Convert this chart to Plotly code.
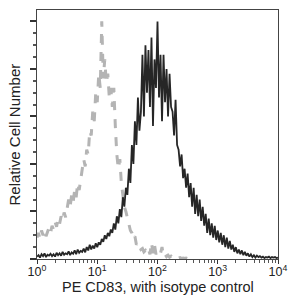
import plotly.graph_objects as go

# bin centres in log10 units (0 .. 4, step 0.025)
log_start = 0.0
log_step = 0.025

isotype = [
    0.45, 0.55, 0.42, 0.6, 0.5, 0.62, 0.48, 0.58, 0.66, 0.55,
    0.7, 0.62, 0.78, 0.68, 0.85, 0.74, 0.9, 0.8, 0.98, 0.88,
    1.05, 1.25, 1.1, 1.35, 1.2, 1.45, 1.3, 1.6, 1.45, 1.7,
    1.85, 2.1, 1.95, 2.3, 2.2, 2.7, 2.6, 3.1, 2.9, 3.5,
    3.3, 3.9, 3.6, 5.0, 3.8, 4.2, 3.7, 3.9, 3.4, 3.6,
    3.2, 3.6, 2.8, 2.2, 1.9, 2.1, 1.6, 1.3, 1.1, 1.0,
    0.85, 0.7, 0.6, 0.55, 0.42, 0.48, 0.3, 0.35, 0.28, 0.2,
    0.22, 0.15, 0.18, 0.12, 0.2, 0.1, 0.35, 0.12, 0.3, 0.1,
    0.15, 0.08, 0.12, 0.25, 0.06, 0.1, 0.05, 0.08, 0.04, 0.06,
    0.03, 0.05, 0.02, 0.04, 0.02, 0.03, 0.01, 0.02, 0.01, 0.02,
    0.01, 0.0,
]

cd83 = [
    0.05, 0.08, 0.03, 0.1, 0.06, 0.12, 0.04, 0.09, 0.07, 0.11,
    0.06, 0.1, 0.05, 0.13, 0.08, 0.12, 0.07, 0.15, 0.09, 0.12,
    0.1, 0.16, 0.08, 0.14, 0.11, 0.18, 0.1, 0.2, 0.13, 0.17,
    0.15, 0.22, 0.14, 0.25, 0.18, 0.3, 0.2, 0.28, 0.22, 0.33,
    0.25, 0.35, 0.3, 0.42, 0.36, 0.5, 0.42, 0.55, 0.48, 0.62,
    0.55, 0.75, 0.62, 0.9, 0.75, 1.05, 0.88, 1.3, 1.1, 1.5,
    1.35, 1.9, 1.6, 2.4, 2.0, 2.9, 2.4, 3.4, 2.7, 3.1,
    4.3, 3.0, 4.5, 3.5, 4.4, 3.2, 4.66, 2.8, 4.2, 3.6,
    5.0, 3.4, 4.3, 2.9, 4.3, 3.3, 4.0, 3.0, 3.9, 3.2,
    3.1, 2.6, 3.35, 2.4, 2.3, 1.95, 2.2, 1.7, 1.9, 1.5,
    1.8, 1.3, 1.6, 1.1, 1.5, 0.95, 1.35, 0.9, 1.25, 0.8,
    1.1, 0.7, 0.95, 0.55, 0.85, 0.5, 0.75, 0.45, 0.7, 0.4,
    0.6, 0.35, 0.55, 0.3, 0.5, 0.25, 0.45, 0.22, 0.38, 0.2,
    0.3, 0.15, 0.25, 0.12, 0.2, 0.1, 0.18, 0.08, 0.15, 0.07,
    0.12, 0.05, 0.1, 0.04, 0.08, 0.03, 0.07, 0.04, 0.06, 0.03,
    0.05, 0.02, 0.04, 0.03, 0.05, 0.02, 0.04, 0.03, 0.04, 0.02, 0.03,
]

tick_vals = [1, 10, 100, 1000, 10000]
tick_text = ["10<sup>0</sup>", "10<sup>1</sup>", "10<sup>2</sup>", "10<sup>3</sup>", "10<sup>4</sup>"]
x_title = "PE CD83, with isotype control"
y_title = "Relative Cell Number"

x_iso = [10 ** (log_start + i * log_step) for i in range(len(isotype))]
x_cd = [10 ** (log_start + i * log_step) for i in range(len(cd83))]

fig = go.Figure()
fig.add_trace(go.Scatter(x=x_iso, y=isotype, mode="lines",
                         line=dict(color="#b4b4b4", width=3, dash="dash"),
                         showlegend=False, hoverinfo="skip"))
fig.add_trace(go.Scatter(x=x_cd, y=cd83, mode="lines",
                         line=dict(color="#262626", width=1.8),
                         showlegend=False, hoverinfo="skip"))

font_family = "Liberation Sans, Arial, Helvetica, sans-serif"
fig.update_layout(
    width=294, height=299,
    margin=dict(l=37, r=6, t=10, b=40),
    paper_bgcolor="white", plot_bgcolor="white",
    font=dict(family=font_family, color="#222", size=13),
    xaxis=dict(type="log", range=[0, 4], showgrid=False, zeroline=False,
               showline=True, linecolor="#444", linewidth=1, mirror=True,
               ticks="outside", ticklen=4, tickcolor="#333",
               tickvals=tick_vals, ticktext=tick_text,
               tickfont=dict(size=12.5), ticklabeloverflow="allow",
               ticklabelstandoff=-3,
               minor=dict(ticks="outside", ticklen=3, tickcolor="#555", dtick="D1")),
    yaxis=dict(range=[0, 5.24], showgrid=False, zeroline=False,
               showline=True, linecolor="#444", linewidth=1, mirror=True,
               ticks="outside", ticklen=6, tickwidth=2, tickcolor="#333",
               dtick=1, showticklabels=False,
               minor=dict(ticks="outside", ticklen=3, tickcolor="#555", dtick=0.25)),
    annotations=[
        dict(text=x_title, xref="paper", yref="paper", x=0.5, y=0,
             yshift=-28, xanchor="center", yanchor="middle",
             showarrow=False, font=dict(size=14.5)),
        dict(text=y_title, xref="paper", yref="paper", x=0, y=0.5,
             xshift=-23, xanchor="center", yanchor="middle", textangle=-90,
             showarrow=False, font=dict(size=15)),
    ],
)

fig.write_html("out.html",
               config={"displayModeBar": False},
               post_script="document.body.style.margin='0';document.body.style.overflow='hidden';")
